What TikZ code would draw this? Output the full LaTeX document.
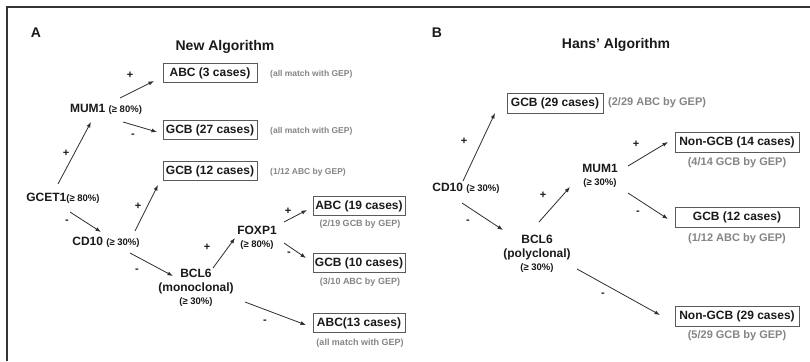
\documentclass[tikz,border=0pt]{standalone}
\usepackage{fontspec}
\setmainfont{Liberation Sans}
\usetikzlibrary{arrows.meta}
\definecolor{txt}{HTML}{1A1A1A}
\definecolor{notegray}{HTML}{858585}
\definecolor{boxgray}{HTML}{5A5A5A}
\definecolor{arrgray}{HTML}{2E2E2E}
\definecolor{framegray}{HTML}{333333}
\newcommand{\pctf}{\fontsize{9.5}{11}\selectfont}
\tikzset{
  box/.style={draw=boxgray, line width=0.9pt, inner xsep=2pt, inner ysep=0pt,
    minimum height=19pt, text=txt, font=\bfseries\fontsize{12}{14}\selectfont},
  boxa/.style={box, minimum width=94pt},
  boxb/.style={box, minimum width=124pt, minimum height=20pt},
  lbl/.style={inner sep=0pt, text=txt, font=\bfseries\fontsize{12}{13.5}\selectfont, align=center},
  title/.style={inner sep=0pt, text=txt, font=\bfseries\fontsize{14}{16}\selectfont},
  notea/.style={inner sep=0pt, text=notegray, font=\bfseries\fontsize{8.5}{10}\selectfont},
  suba/.style={inner sep=0pt, text=notegray, font=\bfseries\fontsize{9}{11}\selectfont},
  subb/.style={inner sep=0pt, text=notegray, font=\bfseries\fontsize{11}{13}\selectfont},
  sgn/.style={inner sep=0pt, text=txt, font=\bfseries\fontsize{11}{12}\selectfont},
  arr/.style={-{Latex[length=5.5pt,width=4pt]}, line width=0.8pt, draw=arrgray},
}
\begin{document}
\begin{tikzpicture}[x=1pt,y=-1pt]
\useasboundingbox (0,0) rectangle (810,361);
\fill[white] (0,0) rectangle (810,361);
\draw[line width=1.6pt, framegray] (7,361) -- (7,7) -- (810,7);

% ---------------- Panel A
\node[title] (labA) at (36,33) {A};
\node[title] (titA) at (225,47) {New Algorithm};

\node[boxa] (abc3) at (210,73) {ABC (3 cases)};
\node[notea, anchor=west] (n3) at (270,74) {(all match with GEP)};
\node[boxa] (gcb27) at (210,130) {GCB (27 cases)};
\node[notea, anchor=west] (n27) at (270,131) {(all match with GEP)};
\node[boxa] (gcb12A) at (210,171) {GCB (12 cases)};
\node[notea, anchor=west] (n12A) at (270,172) {(1/12 ABC by GEP)};

\node[lbl] (mum1A) at (106,109) {MUM1 {\pctf(≥ 80\%)}};
\node[lbl] (gcet1) at (63,198) {GCET1{\pctf(≥ 80\%)}};
\node[lbl] (cd10A) at (106,242) {CD10 {\pctf(≥ 30\%)}};
\node[lbl] (bcl6A) at (196,288) {BCL6\\(monoclonal)\\{\pctf(≥ 30\%)}};
\node[lbl] (foxp1) at (257,238) {FOXP1\\[-1pt]{\pctf(≥ 80\%)}};

\node[boxa, minimum width=92pt] (abc19) at (359,206) {ABC (19 cases)};
\node[suba] (s19) at (360,224) {(2/19 GCB by GEP)};
\node[boxa, minimum width=92pt] (gcb10) at (359,263) {GCB (10 cases)};
\node[suba] (s10) at (360,282) {(3/10 ABC by GEP)};
\node[boxa, minimum width=92pt] (abc13) at (359,323) {ABC(13 cases)};
\node[suba] (s13) at (360,343) {(all match with GEP)};

\node[sgn] (p1) at (130,75) {+};
\node[sgn] (m1) at (133,136) {-};
\node[sgn] (p2) at (66,153) {+};
\node[sgn] (m2) at (67,222) {-};
\node[sgn] (p3) at (138,206) {+};
\node[sgn] (m3) at (137,271) {-};
\node[sgn] (p4) at (207,247) {+};
\node[sgn] (p5) at (288,211) {+};
\node[sgn] (m5) at (289,254) {-};
\node[sgn] (m6) at (265,322) {-};

\draw[arr] ([shift={(14,-11)}]mum1A.center) -- ([shift={(-56,8)}]abc3.center);
\draw[arr] ([shift={(17,13)}]mum1A.center) -- ([shift={(-53,2)}]gcb27.center);
\draw[arr] ([shift={(-5,-14)}]gcet1.center) -- ([shift={(-15,13)}]mum1A.center);
\draw[arr] ([shift={(7,14)}]gcet1.center) -- ([shift={(-5,-10)}]cd10A.center);
\draw[arr] ([shift={(29,-11)}]cd10A.center) -- ([shift={(-52,14)}]gcb12A.center);
\draw[arr] ([shift={(24,11)}]cd10A.center) -- ([shift={(-23,-12)}]bcl6A.center);
\draw[arr] ([shift={(17,-20)}]bcl6A.center) -- ([shift={(-22,0)}]foxp1.center);
\draw[arr] ([shift={(27,-16)}]foxp1.center) -- ([shift={(-52,4)}]abc19.center);
\draw[arr] ([shift={(27,5)}]foxp1.center) -- ([shift={(-53,-5)}]gcb10.center);
\draw[arr] ([shift={(49,14)}]bcl6A.center) -- ([shift={(-53,2)}]abc13.center);

% ---------------- Panel B
\node[title] (labB) at (437,33) {B};
\node[title] (titB) at (616,45) {Hans' Algorithm};

\node[box, minimum width=96pt, minimum height=20pt] (gcb29) at (555,103) {GCB (29 cases)};
\node[subb, anchor=west] (n29) at (608,103) {(2/29 ABC by GEP)};

\node[lbl] (cd10B) at (466,188) {CD10 {\pctf(≥ 30\%)}};
\node[lbl] (bcl6B) at (537,254) {BCL6\\(polyclonal)\\{\pctf(≥ 30\%)}};
\node[lbl] (mum1B) at (600,176) {MUM1\\[-1pt]{\pctf(≥ 30\%)}};

\node[boxb] (ng14) at (737,142) {Non-GCB (14 cases)};
\node[subb] (s14) at (737,163) {(4/14 GCB by GEP)};
\node[boxb] (gcb12B) at (737,217) {GCB (12 cases)};
\node[subb] (s12B) at (737,239) {(1/12 ABC by GEP)};
\node[boxb] (ng29) at (737,316) {Non-GCB (29 cases)};
\node[subb] (s29) at (737,336) {(5/29 GCB by GEP)};

\node[sgn] (p6) at (464,141) {+};
\node[sgn] (m7) at (468,222) {-};
\node[sgn] (p7) at (543,195) {+};
\node[sgn] (p8) at (636,144) {+};
\node[sgn] (m8) at (638,213) {-};
\node[sgn] (m9) at (603,295) {-};

\draw[arr] ([shift={(-3,-7)}]cd10B.center) -- ([shift={(-60,10)}]gcb29.center);
\draw[arr] ([shift={(-4,15)}]cd10B.center) -- ([shift={(-34,-24)}]bcl6B.center);
\draw[arr] ([shift={(2,-32)}]bcl6B.center) -- ([shift={(-30,11)}]mum1B.center);
\draw[arr] ([shift={(28,-10)}]mum1B.center) -- ([shift={(-69,0)}]ng14.center);
\draw[arr] ([shift={(28,17)}]mum1B.center) -- ([shift={(-69,2)}]gcb12B.center);
\draw[arr] ([shift={(40,15)}]bcl6B.center) -- ([shift={(-77,-1)}]ng29.center);
\end{tikzpicture}
\end{document}
